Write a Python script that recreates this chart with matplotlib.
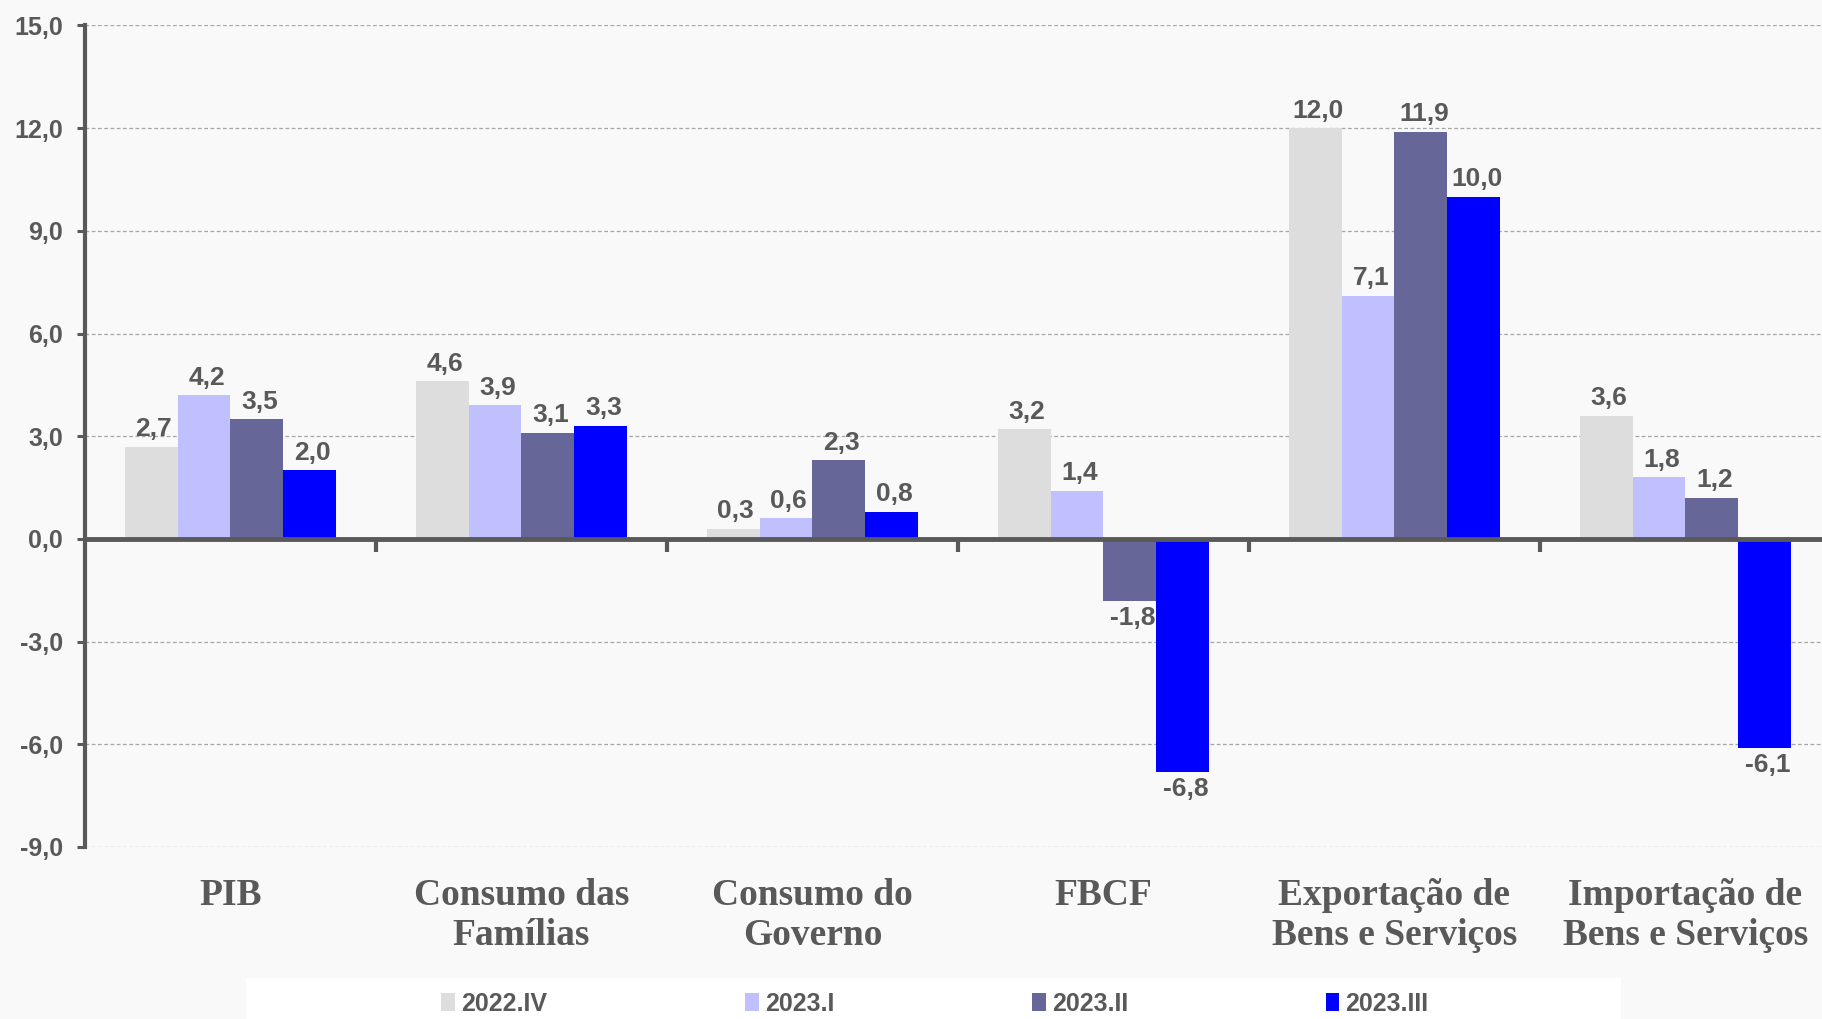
import numpy as np
import matplotlib.pyplot as plt
from matplotlib.patches import Rectangle

# dados (variação %, trimestre contra mesmo trimestre do ano anterior)
categorias = ['PIB', 'Consumo das\nFamílias', 'Consumo do\nGoverno', 'FBCF',
              'Exportação de\nBens e Serviços', 'Importação de\nBens e Serviços']
series = ['2022.IV', '2023.I', '2023.II', '2023.III']
v_2022_iv = [2.7, 4.6, 0.3, 3.2, 12.0, 3.6]
v_2023_i = [4.2, 3.9, 0.6, 1.4, 7.1, 1.8]
v_2023_ii = [3.5, 3.1, 2.3, -1.8, 11.9, 1.2]
v_2023_iii = [2.0, 3.3, 0.8, -6.8, 10.0, -6.1]
yticks = [-9, -6, -3, 0, 3, 6, 9, 12, 15]

cores = ['#dddddd', '#c0c0ff', '#666699', '#0000ff']
cinza = '#595959'
fundo = '#f9f9f9'

fig = plt.figure(figsize=(18.22, 10.19), dpi=100, facecolor=fundo)
ax = fig.add_axes([85 / 1822, 1 - 847 / 1019, 6 * 291 / 1822, (847 - 25.5) / 1019])
ax.set_facecolor(fundo)

x = np.arange(len(categorias))
largura = 0.182
valores = [v_2022_iv, v_2023_i, v_2023_ii, v_2023_iii]
barras = []
for i, (nome, vals) in enumerate(zip(series, valores)):
    pos = x + (i - 1.5) * largura
    b = ax.bar(pos, vals, largura, color=cores[i], label=nome, zorder=3, linewidth=0)
    barras.append(b)
    for xi, v in zip(pos, vals):
        txt = f'{v:.1f}'.replace('.', ',')
        if v >= 0:
            ax.annotate(txt, (xi, v), xytext=(2, 4), textcoords='offset points',
                        ha='center', va='bottom', fontsize=19, fontweight='bold',
                        color=cinza, family='Liberation Sans', zorder=4)
        else:
            ax.annotate(txt, (xi, v), xytext=(2, -4), textcoords='offset points',
                        ha='center', va='top', fontsize=19, fontweight='bold',
                        color=cinza, family='Liberation Sans', zorder=4)

ax.set_xlim(-0.5, len(categorias) - 0.5)
ax.set_ylim(-9, 15)
ax.set_yticks(yticks, labels=[f'{t:.1f}'.replace('.', ',') for t in yticks])
ax.grid(axis='y', linestyle=(0, (3, 2)), color='#a6a6a6', linewidth=0.9, zorder=0)

for lbl in ax.get_yticklabels():
    lbl.set_fontsize(18)
    lbl.set_fontweight('bold')
    lbl.set_color(cinza)
    lbl.set_family('Liberation Sans')
ax.tick_params(axis='y', length=6, width=2.2, color=cinza, pad=10)

# eixo x no zero, com marcas entre as categorias
ax.spines['top'].set_visible(False)
ax.spines['right'].set_visible(False)
ax.spines['left'].set_color(cinza)
ax.spines['left'].set_linewidth(3)
ax.spines['bottom'].set_position(('data', 0))
ax.spines['bottom'].set_color(cinza)
ax.spines['bottom'].set_linewidth(3.5)
ax.spines['bottom'].set_zorder(5)
ax.set_xticks(x[:-1] + 0.5, labels=[''] * (len(categorias) - 1))
ax.tick_params(axis='x', length=9, width=3, color=cinza, direction='out')

# nomes das categorias embaixo
sec = ax.secondary_xaxis(0.0)
sec.set_xticks(x, labels=categorias)
sec.spines['bottom'].set_visible(False)
sec.tick_params(axis='x', length=0, pad=22)
for lbl in sec.get_xticklabels():
    lbl.set_fontsize(27)
    lbl.set_fontweight('bold')
    lbl.set_color(cinza)
    lbl.set_family('Liberation Serif')
    lbl.set_linespacing(1.2)

# legenda numa faixa branca
fig.patches.append(Rectangle((246 / 1822, 0), (1621 - 246) / 1822, 41 / 1019,
                             transform=fig.transFigure, facecolor='white',
                             edgecolor='none', zorder=0))
leg = fig.legend(handles=barras, loc='center', bbox_to_anchor=(935 / 1822, 1 - 1004 / 1019),
                 ncol=4, frameon=False, handlelength=0.55, handleheight=0.75,
                 handletextpad=0.25, columnspacing=7.9,
                 prop={'family': ['Liberation Sans Narrow', 'Liberation Sans'],
                       'weight': 'bold', 'size': 18})
for t in leg.get_texts():
    t.set_color(cinza)

fig.savefig('out.png', dpi=100, facecolor=fundo)
